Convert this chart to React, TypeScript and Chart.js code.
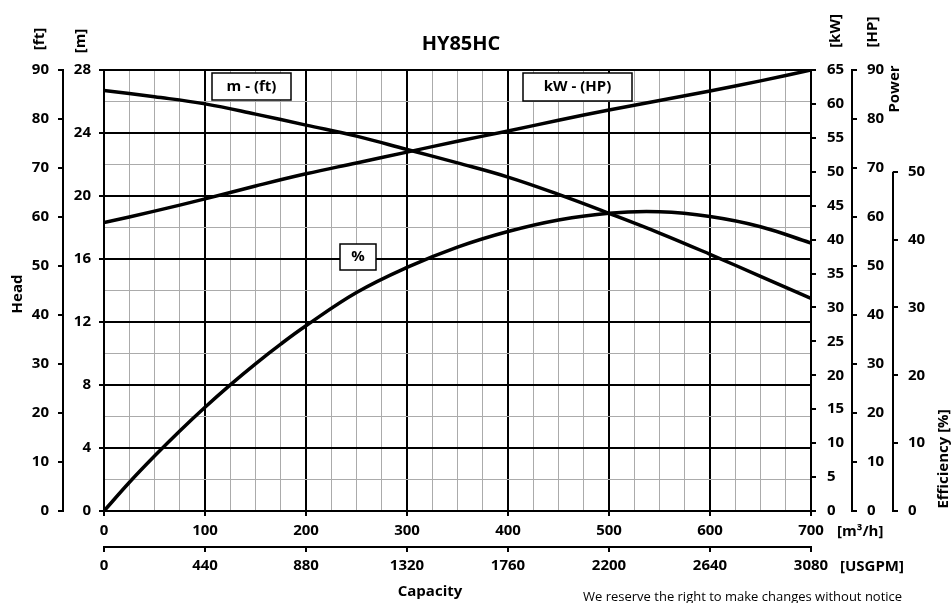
import React, { useEffect, useRef } from "react";
import { Chart, registerables } from "chart.js";

Chart.register(...registerables);

// ---------- data ----------
const titleText = "HY85HC";
const flowM3h = [0, 50, 100, 150, 200, 250, 300, 350, 400, 450, 500, 550, 600, 650, 700];
const headM = [26.7, 26.3, 25.85, 25.2, 24.5, 23.8, 22.95, 22.1, 21.2, 20.1, 18.9, 17.65, 16.3, 14.9, 13.5];
const powerKW = [42.5, 44.2, 46.0, 47.9, 49.7, 51.3, 52.9, 54.5, 56.0, 57.6, 59.1, 60.5, 61.9, 63.4, 65.0];
const effFlow = [0, 25, 50, 75, 100, 125, 150, 175, 200, 250, 300, 350, 400, 450, 500, 550, 600, 650, 700];
const effPct = [0, 4.2, 8.1, 11.8, 15.3, 18.6, 21.7, 24.6, 27.3, 32.2, 35.9, 38.9, 41.2, 42.9, 43.9, 44.1, 43.4, 41.9, 39.5];

const flowTickStep = 100;
const usgpmMax = 3080;
const usgpmStep = 440;
const headMMax = 28;
const headFtMax = 90;
const powerKWMax = 65;
const powerHPMax = 90;
const effTickMax = 50;

const FONT = "'Open Sans', 'DejaVu Sans', sans-serif";
const BLACK = "#000000";
const MINOR = "#ababab";

const tickFont = { family: FONT, size: 15, weight: "bold" as const };

function isMajor(v: number, step: number) {
  return Math.abs(v / step - Math.round(v / step)) < 1e-6;
}

const textPlugin = {
  id: "pumpText",
  afterDraw(chart: any) {
    const ctx = chart.ctx as CanvasRenderingContext2D;
    const s = chart.scales;
    ctx.save();
    ctx.fillStyle = BLACK;
    ctx.strokeStyle = BLACK;

    const bold = (size: number) => `bold ${size}px ${FONT}`;

    // title
    ctx.font = bold(20);
    ctx.textAlign = "center";
    ctx.textBaseline = "middle";
    ctx.fillText(titleText, 461, 44);

    // rotated labels (bottom-to-top)
    const vtext = (t: string, x: number, y: number, size = 15) => {
      ctx.save();
      ctx.translate(x, y);
      ctx.rotate(-Math.PI / 2);
      ctx.font = bold(size);
      ctx.textAlign = "center";
      ctx.textBaseline = "middle";
      ctx.fillText(t, 0, 0);
      ctx.restore();
    };
    vtext("[ft]", 40, 39);
    vtext("[m]", 81, 41);
    vtext("[kW]", 836, 31);
    vtext("[HP]", 873, 32);
    vtext("Power", 895, 89);
    vtext("Head", 18, 294);
    vtext("Efficiency [%]", 944, 459);

    // unit labels
    ctx.font = bold(15);
    ctx.textAlign = "left";
    ctx.textBaseline = "middle";
    ctx.fillText("[m³/h]", 837, 532);
    ctx.fillText("[USGPM]", 840, 567);

    ctx.textAlign = "center";
    ctx.fillText("Capacity", 430, 592);

    ctx.font = `13px ${FONT}`;
    ctx.textAlign = "left";
    ctx.fillText("We reserve the right to make changes without notice", 583, 597);

    // efficiency axis line (0..50 only)
    const e = s.yEff;
    ctx.lineWidth = 2;
    ctx.beginPath();
    ctx.moveTo(e.left, e.getPixelForValue(0) + 1);
    ctx.lineTo(e.left, e.getPixelForValue(effTickMax));
    ctx.stroke();

    // curve label boxes
    const box = (t: string, cx: number, cy: number, w: number, h: number) => {
      ctx.fillStyle = "#ffffff";
      ctx.fillRect(cx - w / 2, cy - h / 2, w, h);
      ctx.lineWidth = 1.5;
      ctx.strokeStyle = BLACK;
      ctx.strokeRect(cx - w / 2, cy - h / 2, w, h);
      ctx.fillStyle = BLACK;
      ctx.font = bold(15);
      ctx.textAlign = "center";
      ctx.textBaseline = "middle";
      ctx.fillText(t, cx, cy);
    };
    box("m - (ft)", 251.5, 86.5, 79, 27);
    box("kW - (HP)", 577.5, 87, 109, 28);
    box("%", 358, 257, 36, 26);

    ctx.restore();
  },
};

export default function App() {
  const ref = useRef<HTMLCanvasElement | null>(null);

  useEffect(() => {
    if (!ref.current) return;
    const lineStyle = {
      borderColor: BLACK,
      borderWidth: 3.5,
      pointRadius: 0,
      tension: 0.4,
      fill: false,
    };
    const chart = new Chart(ref.current, {
      type: "line",
      data: {
        datasets: [
          {
            label: "Head [m]",
            data: flowM3h.map((x, i) => ({ x, y: headM[i] })),
            xAxisID: "x",
            yAxisID: "yM",
            ...lineStyle,
          },
          {
            label: "Power [kW]",
            data: flowM3h.map((x, i) => ({ x, y: powerKW[i] })),
            xAxisID: "x",
            yAxisID: "yKW",
            ...lineStyle,
          },
          {
            label: "Efficiency [%]",
            data: effFlow.map((x, i) => ({ x, y: effPct[i] })),
            xAxisID: "x",
            yAxisID: "yEff",
            ...lineStyle,
          },
        ],
      },
      options: {
        animation: false,
        responsive: false,
        maintainAspectRatio: false,
        layout: { padding: { top: 70, bottom: 28, left: 0, right: 0 } },
        plugins: {
          legend: { display: false },
          tooltip: { enabled: false },
          title: { display: false },
        },
        scales: {
          x: {
            type: "linear",
            position: "bottom",
            weight: 0,
            min: 0,
            max: 700,
            ticks: {
              stepSize: 25,
              autoSkip: false,
              maxRotation: 0,
              color: BLACK,
              font: tickFont,
              padding: 6,
              callback: (v: any) => (isMajor(Number(v), flowTickStep) ? String(v) : ""),
            },
            grid: {
              color: (c: any) => (c.tick && isMajor(c.tick.value, flowTickStep) ? BLACK : MINOR),
              lineWidth: (c: any) => (c.tick && isMajor(c.tick.value, flowTickStep) ? 2 : 1),
              tickColor: (c: any) => (c.tick && isMajor(c.tick.value, flowTickStep) ? BLACK : "rgba(0,0,0,0)"),
              tickLength: 5,
            },
            border: { display: true, color: BLACK, width: 2 },
            afterFit: (sc: any) => {
              sc.height = 36;
            },
          },
          x2: {
            type: "linear",
            position: "bottom",
            weight: 1,
            min: 0,
            max: usgpmMax,
            ticks: {
              stepSize: usgpmStep,
              autoSkip: false,
              maxRotation: 0,
              color: BLACK,
              font: tickFont,
              padding: 5,
              callback: (v: any) => String(v),
            },
            grid: { drawOnChartArea: false, color: BLACK, lineWidth: 2, tickLength: 5 },
            border: { display: true, color: BLACK, width: 2 },
            afterFit: (sc: any) => {
              sc.height = 28;
            },
          },
          yM: {
            type: "linear",
            position: "left",
            weight: 0,
            min: 0,
            max: headMMax,
            ticks: {
              stepSize: 2,
              autoSkip: false,
              color: BLACK,
              font: tickFont,
              padding: 8,
              callback: (v: any) => (isMajor(Number(v), 4) ? String(v) : ""),
            },
            grid: {
              color: (c: any) => (c.tick && isMajor(c.tick.value, 4) ? BLACK : MINOR),
              lineWidth: (c: any) => (c.tick && isMajor(c.tick.value, 4) ? 2 : 1),
              tickColor: (c: any) => (c.tick && isMajor(c.tick.value, 4) ? BLACK : "rgba(0,0,0,0)"),
              tickLength: 5,
            },
            border: { display: true, color: BLACK, width: 2 },
            afterFit: (sc: any) => {
              sc.width = 41;
            },
          },
          yFt: {
            type: "linear",
            position: "left",
            weight: 1,
            min: 0,
            max: headFtMax,
            ticks: { stepSize: 10, autoSkip: false, color: BLACK, font: tickFont, padding: 9 },
            grid: { drawOnChartArea: false, color: BLACK, lineWidth: 2, tickLength: 5 },
            border: { display: true, color: BLACK, width: 2 },
            afterFit: (sc: any) => {
              sc.width = 63;
            },
          },
          yKW: {
            type: "linear",
            position: "right",
            weight: 0,
            min: 0,
            max: powerKWMax,
            ticks: { stepSize: 5, autoSkip: false, color: BLACK, font: tickFont, padding: 11 },
            grid: { drawOnChartArea: false, color: BLACK, lineWidth: 2, tickLength: 5 },
            border: { display: true, color: BLACK, width: 2 },
            afterFit: (sc: any) => {
              sc.width = 41;
            },
          },
          yHP: {
            type: "linear",
            position: "right",
            weight: 1,
            min: 0,
            max: powerHPMax,
            ticks: { stepSize: 10, autoSkip: false, color: BLACK, font: tickFont, padding: 10 },
            grid: { drawOnChartArea: false, color: BLACK, lineWidth: 2, tickLength: 5 },
            border: { display: true, color: BLACK, width: 2 },
            afterFit: (sc: any) => {
              sc.width = 41;
            },
          },
          yEff: {
            type: "linear",
            position: "right",
            weight: 2,
            min: 0,
            max: powerKWMax,
            ticks: { stepSize: 10, autoSkip: false, color: BLACK, font: tickFont, padding: 10 },
            afterBuildTicks: (sc: any) => {
              sc.ticks = sc.ticks.filter((t: any) => t.value <= effTickMax + 1e-6);
            },
            grid: { drawOnChartArea: false, color: BLACK, lineWidth: 2, tickLength: 5 },
            border: { display: false },
            afterFit: (sc: any) => {
              sc.width = 59;
            },
          },
        },
      } as any,
      plugins: [textPlugin],
    });
    return () => chart.destroy();
  }, []);

  return (
    <div style={{ position: "absolute", left: 0, top: 0, width: 952, height: 603, background: "#fff" }}>
      <canvas ref={ref} width={952} height={603} style={{ display: "block", width: 952, height: 603 }} />
    </div>
  );
}
